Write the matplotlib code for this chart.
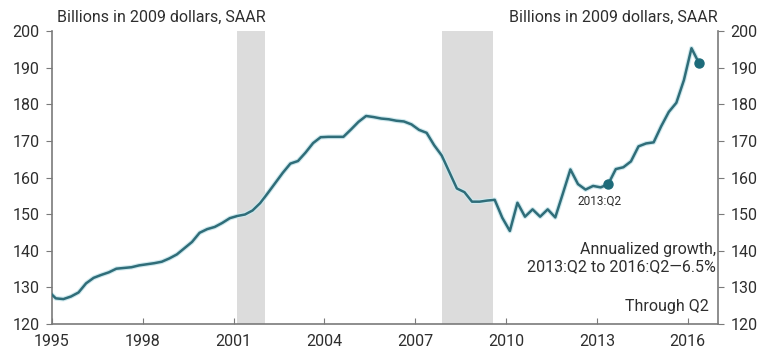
import numpy as np
import matplotlib
matplotlib.use("Agg")
import matplotlib.pyplot as plt

plt.rcParams['font.family'] = ['Roboto', 'DejaVu Sans']

# quarterly values, 1994:Q4 through 2016:Q2 (billions of 2009 dollars, SAAR)
start_year = 1994
start_quarter = 4
values = [
    129.0,
    127.0, 126.8, 127.5, 128.6,
    131.1, 132.6, 133.4, 134.1,
    135.1, 135.3, 135.5, 136.0,
    136.3, 136.6, 137.0, 137.9,
    139.0, 140.7, 142.4, 144.9,
    145.9, 146.5, 147.6, 148.9,
    149.5, 149.9, 151.0, 153.0,
    155.7, 158.5, 161.3, 163.8,
    164.5, 166.8, 169.4, 171.0,
    171.1, 171.1, 171.1, 173.1,
    175.2, 176.8, 176.5, 176.1,
    175.9, 175.5, 175.3, 174.5,
    173.0, 172.2, 168.8, 166.0,
    161.5, 157.0, 156.0, 153.4,
    153.4, 153.7, 153.9, 149.0,
    145.4, 153.1, 149.3, 151.3,
    149.3, 151.3, 149.1, 155.6,
    162.2, 158.2, 156.7, 157.7,
    157.3, 158.2, 162.3, 162.8,
    164.4, 168.5, 169.3, 169.6,
    174.0, 177.9, 180.4, 186.6,
    195.3, 191.2,
]

recessions = [(2001.1, 2002.05), (2007.88, 2009.57)]
highlight = ["2013:Q2", "2016:Q2"]
xticks = [1995, 1998, 2001, 2004, 2007, 2010, 2013, 2016]
yticks = [120, 130, 140, 150, 160, 170, 180, 190, 200]

# place each quarter at its midpoint
dates = []
y, q = start_year, start_quarter
for _ in values:
    dates.append(y + (q - 0.5) / 4)
    q += 1
    if q > 4:
        q = 1
        y += 1
dates = np.array(dates)
values = np.array(values)


def quarter_index(label):
    yr, qq = label.split(":Q")
    t = int(yr) + (int(qq) - 0.5) / 4
    return int(np.argmin(np.abs(dates - t)))


line_color = "#2f6d79"
dot_color = "#1d6b7a"
axis_color = "#7a7a7a"
text_color = "#2e2e2e"
fs = 11.5

fig = plt.figure(figsize=(7.66, 3.56), dpi=100)
ax = fig.add_axes([0.0679, 0.0899, 0.8694, 0.823])

for a, b in recessions:
    ax.axvspan(a, b, color="#dcdcdc", lw=0, zorder=0)

ax.plot(dates, values, color="#cfe9ee", lw=3.4, solid_joinstyle="round", zorder=2)
ax.plot(dates, values, color=line_color, lw=1.8, solid_joinstyle="round", zorder=3)

for lab in highlight:
    i = quarter_index(lab)
    ax.plot(dates[i], values[i], "o", ms=6.5, color=dot_color, zorder=4)

i0 = quarter_index(highlight[0])
ax.text(dates[i0] - 0.3, values[i0] - 4.6, highlight[0], fontsize=8.6,
        color=text_color, ha="center", va="center")

ax.set_xlim(1995, 2017)
ax.set_ylim(120, 200)
ax.set_xticks(xticks)
ax.set_yticks(yticks)

ax.spines["top"].set_visible(False)
for s in ["left", "right", "bottom"]:
    ax.spines[s].set_color(axis_color)
    ax.spines[s].set_linewidth(1.2)

ax.tick_params(axis="x", direction="in", length=4, color=axis_color,
               labelsize=fs, labelcolor=text_color, pad=7)
ax.tick_params(axis="y", direction="out", length=4, color=axis_color,
               labelsize=fs, labelcolor=text_color, right=True,
               labelright=True, pad=5)

ax.text(0.007, 1.045, "Billions in 2009 dollars, SAAR", transform=ax.transAxes,
        fontsize=fs, color=text_color, ha="left", va="center")
ax.text(1.0, 1.045, "Billions in 2009 dollars, SAAR", transform=ax.transAxes,
        fontsize=fs, color=text_color, ha="right", va="center")

growth = ((values[quarter_index(highlight[1])] / values[i0]) ** (1 / 3) - 1) * 100
ax.text(0.997, 0.225, "Annualized growth,\n%s to %s\u2014%.1f%%" % (highlight[0], highlight[1], growth),
        transform=ax.transAxes, fontsize=fs, color=text_color,
        ha="right", va="center", linespacing=1.15)
ax.text(0.987, 0.06, "Through Q2", transform=ax.transAxes, fontsize=fs,
        color=text_color, ha="right", va="center")

fig.savefig("out.png", dpi=100)
